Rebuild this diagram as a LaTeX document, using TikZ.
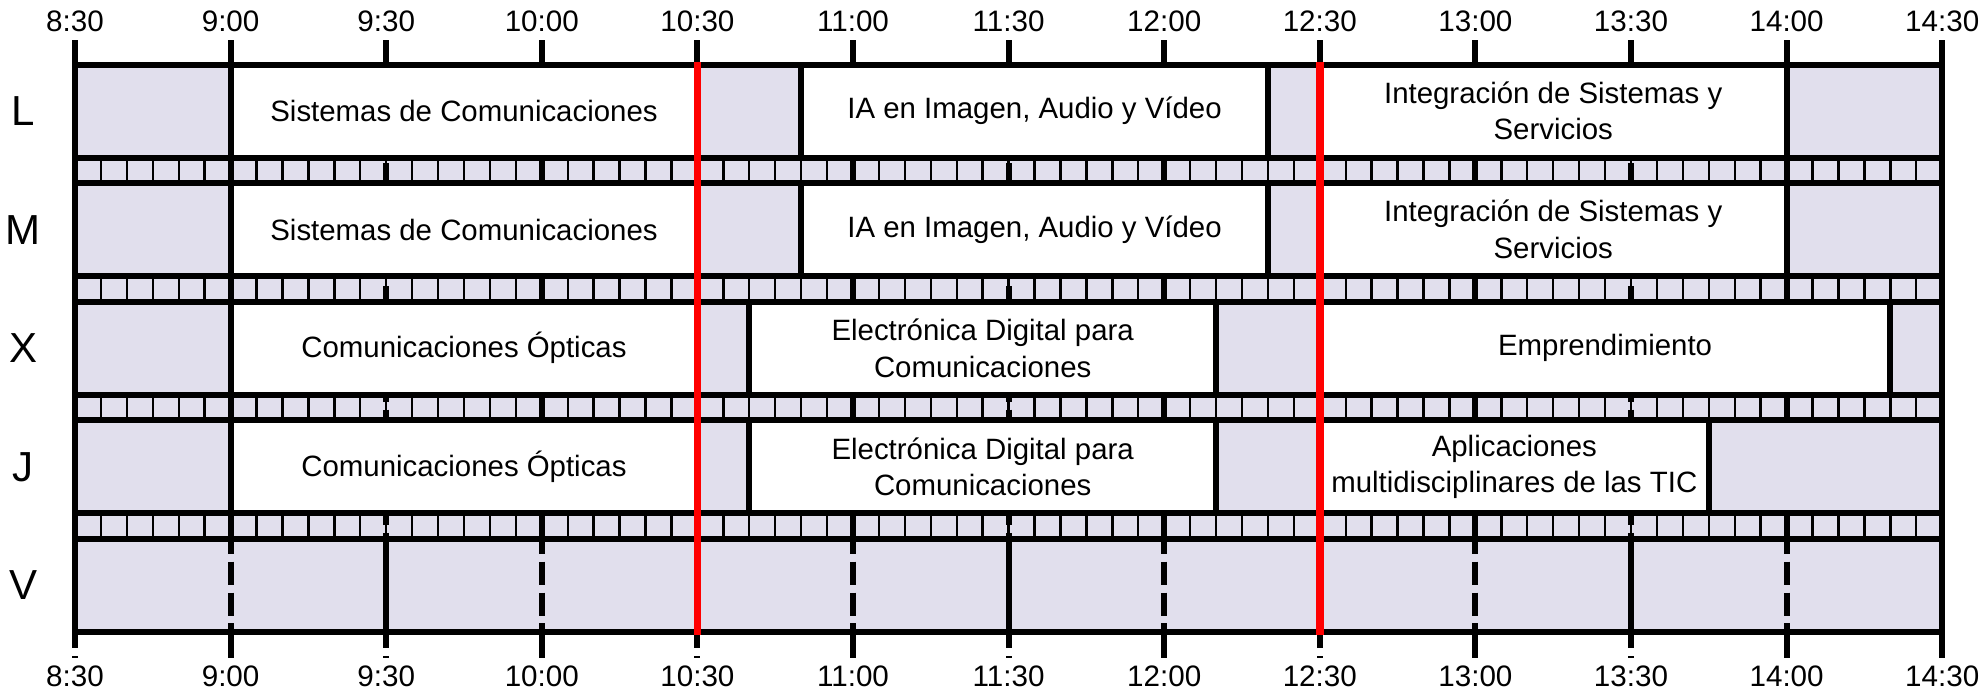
\documentclass[tikz,border=0pt]{standalone}
\usepackage{fontspec}
\setmainfont{Liberation Sans}
\definecolor{freeslot}{RGB}{225,223,237}
\definecolor{breakred}{RGB}{255,0,0}

\begin{document}
\begin{tikzpicture}[x=2.5934pt,y=-0.5pt,
    thickline/.style={line width=3pt},
    slotline/.style={line width=1.2pt},
    halfline/.style={line width=3pt,dash pattern=on 11.5pt off 3.9pt},
    freecell/.style={thickline,fill=freeslot},
    classcell/.style={thickline,fill=white},
    classtext/.style={font=\fontsize{14.7}{18.3}\selectfont,align=center,inner sep=0pt},
    timetext/.style={font=\fontsize{14.8}{16}\selectfont,inner sep=0pt},
    daytext/.style={font=\fontsize{21}{24}\selectfont,inner sep=0pt}]
  \useasboundingbox (-14.46,0) rectangle (367.48,693);
  \fill[freeslot] (0,64.5) rectangle (360,631.9);
  % 5 minute marks between the days
  \foreach \k in {0,...,3}{
    \pgfmathsetmacro\ya{157.5+118.6*\k}
    \foreach \m in {5,10,...,355}
      \draw[slotline] (\m,\ya) -- (\m,\ya+25.6);
  }
  \foreach \m in {0,60,...,300}
    \draw[halfline] (\m,40) -- (\m,658);
  \foreach \m in {30,90,150,210,270,330,360}
    \draw[thickline] (\m,40) -- (\m,658);
  \draw[thickline] (0,40) -- (0,631.9);
  % days
  \foreach \k/\dname in {0/L,1/M,2/X,3/J,4/V}{
    \pgfmathsetmacro\ya{64.5+118.6*\k}
    \draw[freecell] (0,\ya) rectangle (360,\ya+93);
    \node[daytext] (day\dname) at (-10,\ya+46.5) {\dname};
  }
  \foreach \k/\s/\e/\txt in {
      0/30/120/{Sistemas de Comunicaciones},
      0/140/230/{IA en Imagen, Audio y Vídeo},
      0/240/330/{Integración de Sistemas y\\Servicios},
      1/30/120/{Sistemas de Comunicaciones},
      1/140/230/{IA en Imagen, Audio y Vídeo},
      1/240/330/{Integración de Sistemas y\\Servicios},
      2/30/120/{Comunicaciones Ópticas},
      2/130/220/{Electrónica Digital para\\Comunicaciones},
      2/240/350/{Emprendimiento},
      3/30/120/{Comunicaciones Ópticas},
      3/130/220/{Electrónica Digital para\\Comunicaciones},
      3/240/315/{Aplicaciones\\multidisciplinares de las TIC}}{
    \pgfmathsetmacro\ya{64.5+118.6*\k}
    \draw[classcell] (\s,\ya) rectangle (\e,\ya+93);
    \node[classtext] (class-\k-\s) at ({(\s+\e)/2},\ya+46.5) {\txt};
  }
  % friday
  \foreach \m in {60,120,...,300}
    \draw[thickline] (\m,538.9) -- (\m,631.9);
  \foreach \m in {30,90,...,330}
    \draw[halfline] (\m,530.9) -- (\m,631.9);
  \foreach \m in {120,240}
    \draw[breakred,line width=3.8pt] (\m,61.5) -- (\m,634.9);
  \foreach \m/\t in {0/8:30,30/9:00,60/9:30,90/10:00,120/10:30,150/11:00,
      180/11:30,210/12:00,240/12:30,270/13:00,300/13:30,330/14:00,360/14:30}{
    \node[timetext] (top\m) at (\m,21) {\t};
    \node[timetext] (bot\m) at (\m,676) {\t};
  }
\end{tikzpicture}
\end{document}
